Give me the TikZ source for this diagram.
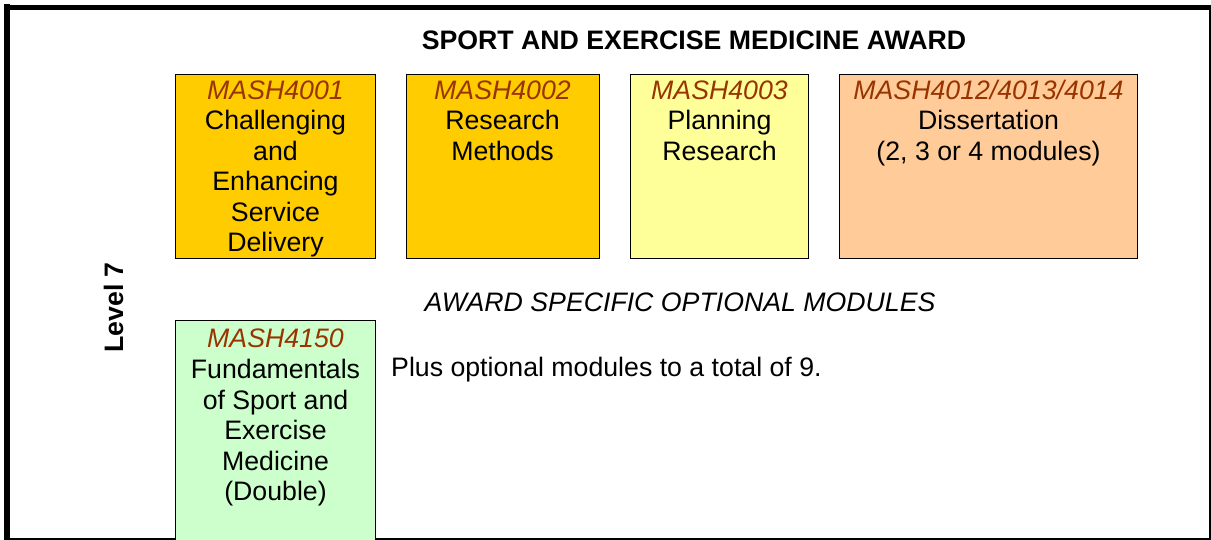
\documentclass[tikz,border=0pt]{standalone}
\usepackage{fontspec}
\setmainfont{Liberation Sans}
\definecolor{codec}{HTML}{993300}
\definecolor{gold}{HTML}{FFCC00}
\definecolor{paleyellow}{HTML}{FFFF99}
\definecolor{peach}{HTML}{FFCC99}
\definecolor{mint}{HTML}{CCFFCC}
\newcommand{\fsz}{\fontsize{26.7}{30.5}\selectfont}
\begin{document}
\begin{tikzpicture}[x=1pt,y=-1pt,
  modbox/.style={draw=black,line width=1pt},
  ln/.style={anchor=base,inner sep=0pt,font=\fsz},
  code/.style={ln,text=codec,font=\fsz\itshape},
]
\useasboundingbox (0,0) rectangle (1211,540);
\fill[white] (0,0) rectangle (1211,540);
% frame
\draw[line width=6pt] (7,4) -- (7,540);
\draw[line width=5.5pt] (4,7.5) -- (1210.5,7.5);
\draw[line width=2pt] (1209.5,7) -- (1209.5,540);
\draw[line width=2pt] (7,538.5) -- (1210.5,538.5);

\node[ln,font=\fsz\bfseries] (title) at (694,50) {SPORT AND EXERCISE MEDICINE AWARD};

% boxes
\path[modbox,fill=gold] (175.5,74.5) rectangle (375.5,258.5) node[pos=0.5] (b1) {};
\path[modbox,fill=gold] (406.5,74.5) rectangle (599.5,258.5) node[pos=0.5] (b2) {};
\path[modbox,fill=paleyellow] (630.5,74.5) rectangle (808.5,258.5) node[pos=0.5] (b3) {};
\path[modbox,fill=peach] (839.5,74.5) rectangle (1137.5,258.5) node[pos=0.5] (b4) {};
\path[modbox,fill=mint] (175.5,320.5) rectangle (375.5,545) node[pos=0.5] (b5) {};

% box 1
\node[code] (c1) at (275.5,99.5) {MASH4001};
\node[ln] (c1a) at (275.5,130) {Challenging};
\node[ln] (c1b) at (275.5,160.5) {and};
\node[ln] (c1c) at (275.5,191) {Enhancing};
\node[ln] (c1d) at (275.5,221.5) {Service};
\node[ln] (c1e) at (275.5,252) {Delivery};
% box 2
\node[code] (c2) at (502.5,99.5) {MASH4002};
\node[ln] (c2a) at (502.5,130) {Research};
\node[ln] (c2b) at (502.5,160.5) {Methods};
% box 3
\node[code] (c3) at (719.5,99.5) {MASH4003};
\node[ln] (c3a) at (719.5,130) {Planning};
\node[ln] (c3b) at (719.5,160.5) {Research};
% box 4
\node[code] (c4) at (988.5,99.5) {MASH4012/4013/4014};
\node[ln] (c4a) at (988.5,130) {Dissertation};
\node[ln] (c4b) at (988.5,160.5) {(2, 3 or 4 modules)};

\node[ln,font=\fsz\itshape] (opt) at (680,312) {AWARD SPECIFIC OPTIONAL MODULES};

% box 5
\node[code] (c5) at (275.5,348) {MASH4150};
\node[ln] (c5a) at (275.5,378.5) {Fundamentals};
\node[ln] (c5b) at (275.5,409) {of Sport and};
\node[ln] (c5c) at (275.5,439.5) {Exercise};
\node[ln] (c5d) at (275.5,470) {Medicine};
\node[ln] (c5e) at (275.5,500.5) {(Double)};

\node[ln,anchor=base west] (plus) at (391,376) {Plus optional modules to a total of 9.};

\node[ln,rotate=90,font=\fsz\bfseries] (lvl) at (123,307.5) {Level 7};
\end{tikzpicture}
\end{document}
